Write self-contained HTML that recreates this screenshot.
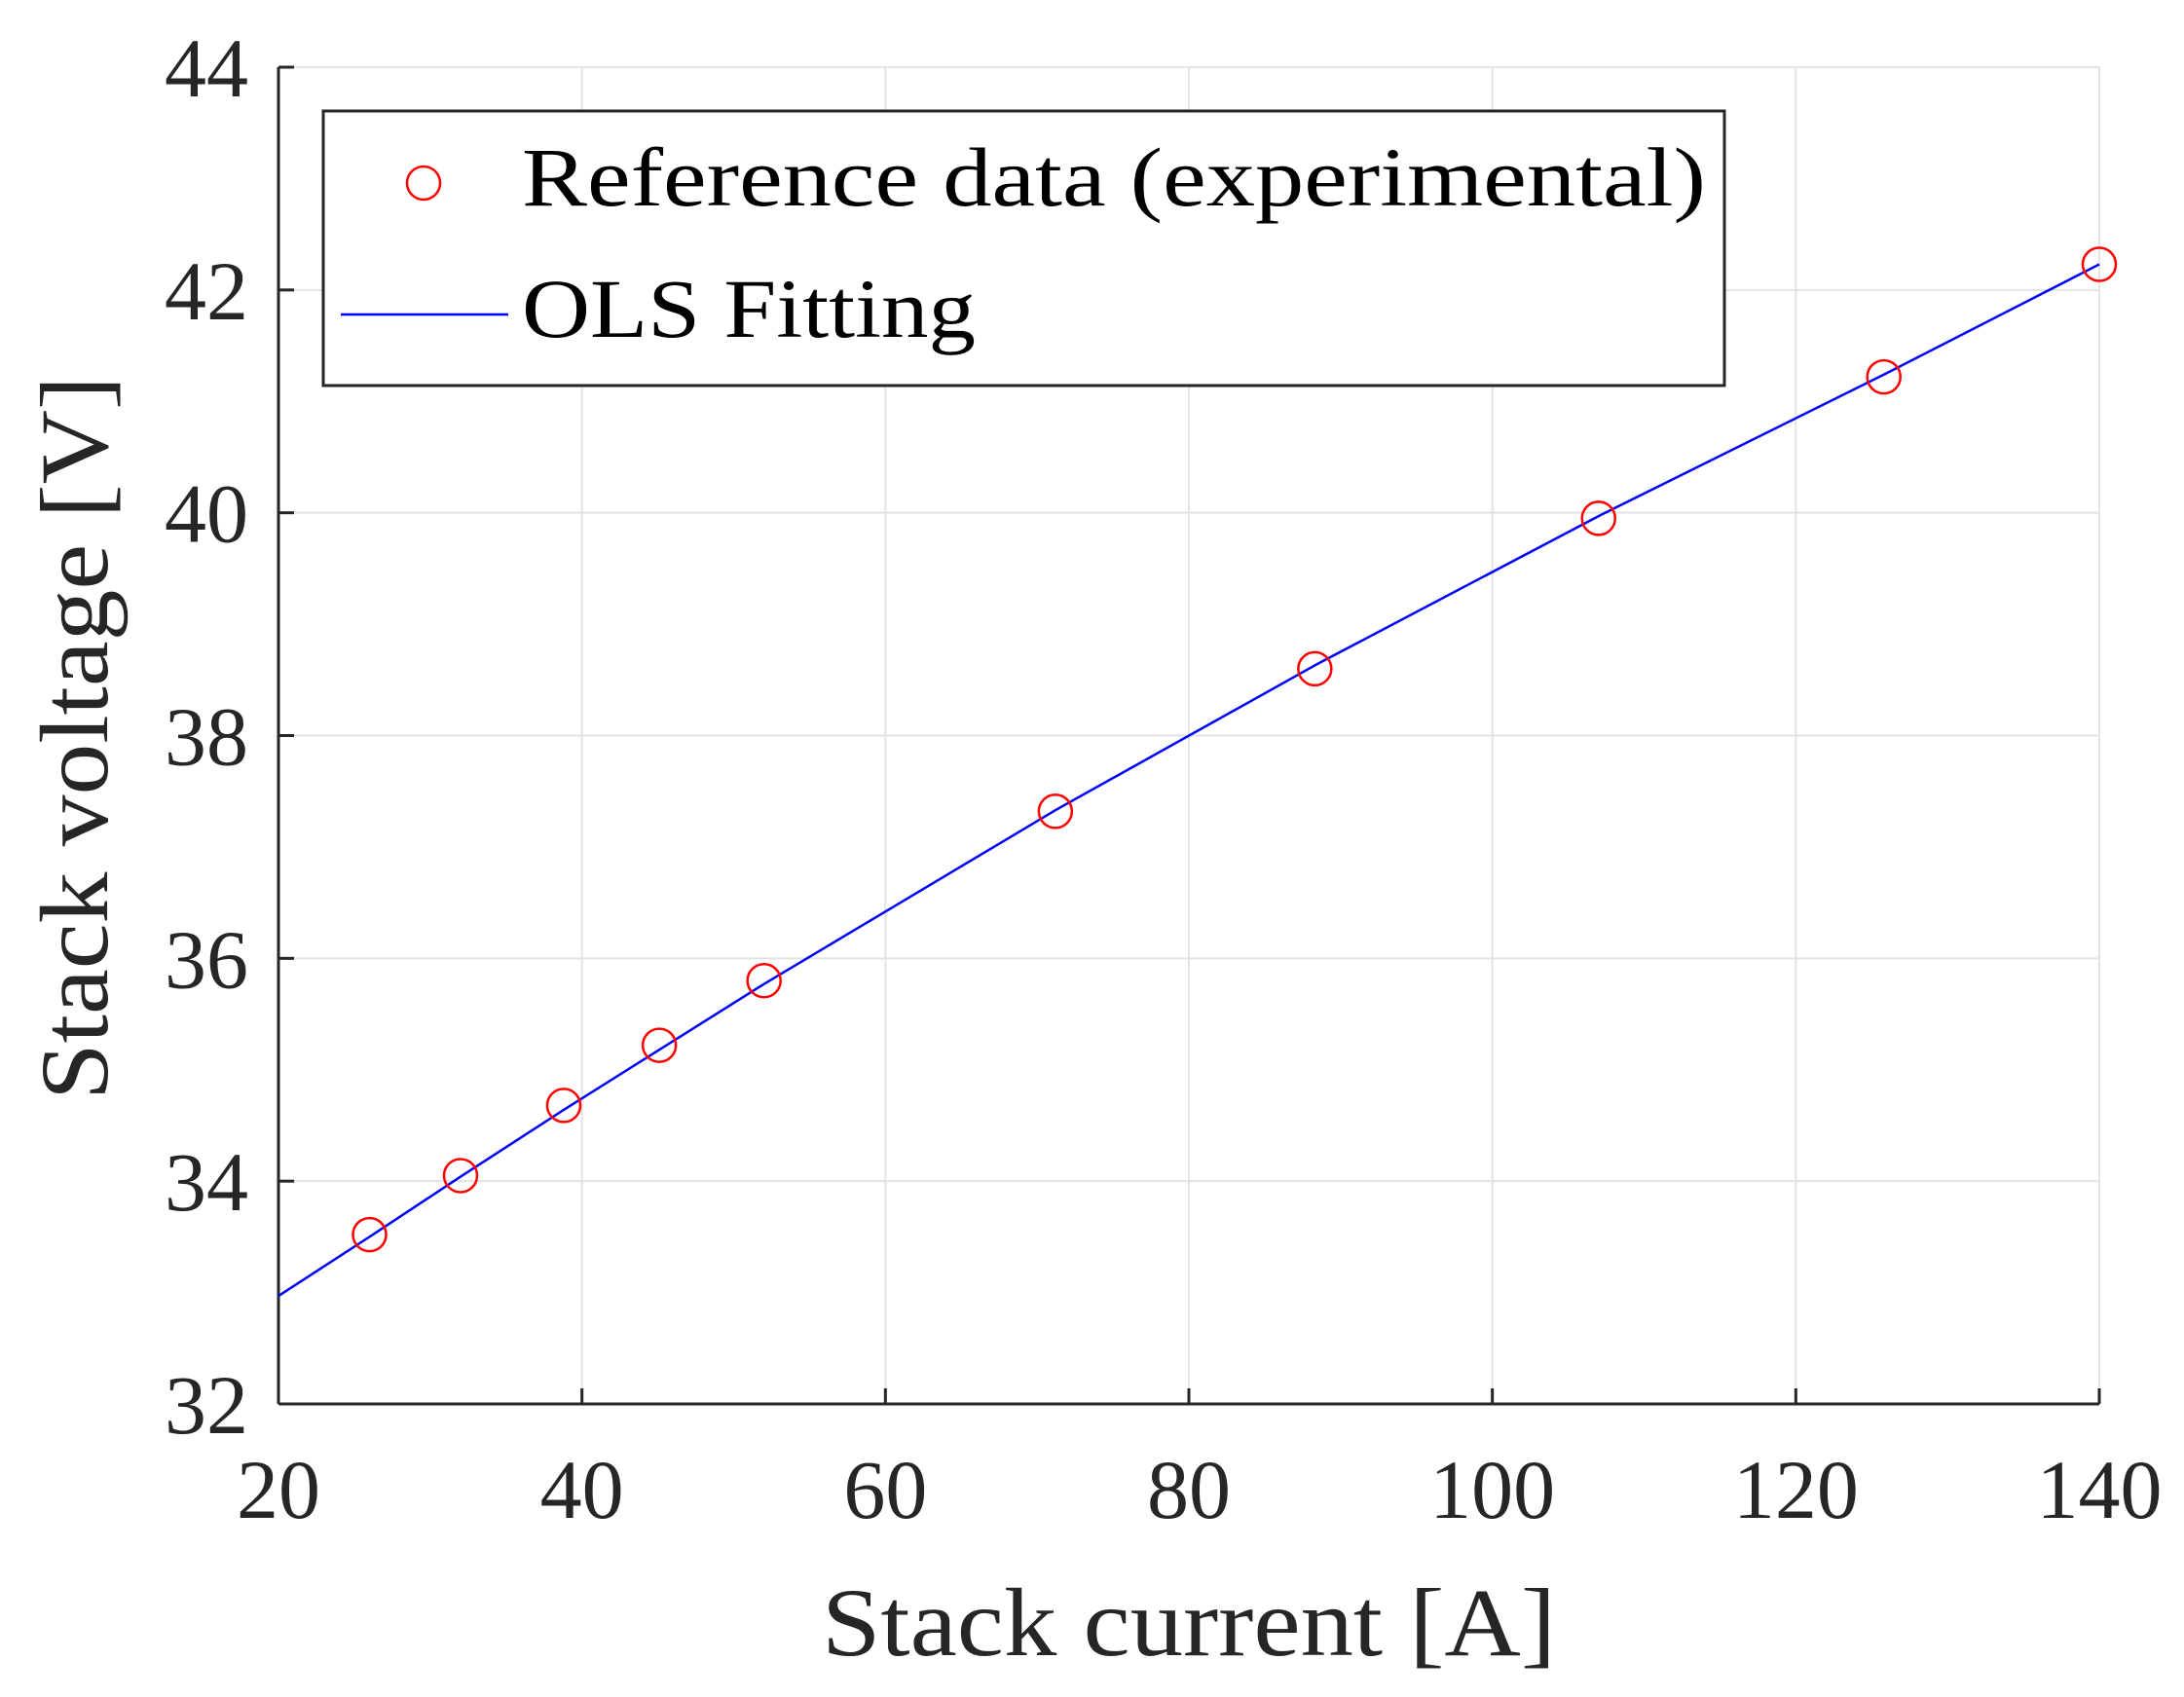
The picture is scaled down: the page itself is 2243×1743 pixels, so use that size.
<!DOCTYPE html>
<html><head><meta charset="utf-8"><style>
html,body{margin:0;padding:0;background:#fff;}
svg{display:block;font-family:"Liberation Serif",serif;}
</style></head><body>
<svg id="chart" width="2243" height="1743" viewBox="0 0 2243 1743" xmlns="http://www.w3.org/2000/svg">
<rect x="0" y="0" width="2243" height="1743" fill="#fff"/>
<g id="grid"></g>
<g id="axes"></g>
<g id="series"></g>
<text x="1221" y="1700" font-size="100" text-anchor="middle" textLength="754" lengthAdjust="spacingAndGlyphs" fill="#262626">Stack current [A]</text>
<text transform="translate(110,758) rotate(-90)" font-size="100" text-anchor="middle" textLength="744" lengthAdjust="spacingAndGlyphs" fill="#262626">Stack voltage [V]</text>
<g>
<rect x="332" y="114" width="1439" height="282" fill="#fff" stroke="#262626" stroke-width="3"/>
<circle cx="435" cy="188" r="17" fill="none" stroke="#ff0000" stroke-width="2.5"/>
<text x="536" y="211" font-size="86" textLength="1216" lengthAdjust="spacingAndGlyphs" fill="#000">Reference data (experimental)</text>
<line x1="350" y1="323" x2="522" y2="323" stroke="#0000ff" stroke-width="2.5"/>
<text x="536" y="346" font-size="86" textLength="466" lengthAdjust="spacingAndGlyphs" fill="#000">OLS Fitting</text>
</g>
</svg>
<script>
const xTicks = [20, 40, 60, 80, 100, 120, 140];
const yTicks = [32, 34, 36, 38, 40, 42, 44];
const refCurrent = [26, 32, 38.8, 45.1, 52, 71.2, 88.3, 107, 125.8, 140];
const refVoltage = [33.52, 34.05, 34.68, 35.22, 35.80, 37.32, 38.60, 39.95, 41.22, 42.23];
const fitCurrent = [20, 26, 32, 38.8, 45.1, 52, 71.2, 88.3, 107, 125.8, 140];
const fitVoltage = [32.97, 33.50, 34.04, 34.64, 35.18, 35.77, 37.33, 38.63, 39.97, 41.24, 42.23];

const NS = "http://www.w3.org/2000/svg";
const L = 286, R = 2156, T = 69, B = 1442;
const xMin = 20, xMax = 140, yMin = 32, yMax = 44;
function sx(v){ return L + (v - xMin) / (xMax - xMin) * (R - L); }
function sy(v){ return B - (v - yMin) / (yMax - yMin) * (B - T); }
function mk(tag, attrs, parent){
  const e = document.createElementNS(NS, tag);
  for (const k in attrs) e.setAttribute(k, attrs[k]);
  parent.appendChild(e);
  return e;
}
const grid = document.getElementById('grid');
const axes = document.getElementById('axes');
const series = document.getElementById('series');

xTicks.forEach(t => {
  const g = mk('line', {x1: sx(t), y1: T, x2: sx(t), y2: B, stroke: '#e3e3e3', 'stroke-width': 2}, grid);
  
  
  const tk = mk('line', {x1: sx(t), y1: B, x2: sx(t), y2: B - 16, stroke: '#262626', 'stroke-width': 3}, axes);
  
  
  const lb = mk('text', {x: sx(t), y: 1559, 'font-size': 86, 'text-anchor': 'middle', fill: '#262626'}, axes);
  lb.textContent = t;
  
  
});
yTicks.forEach(t => {
  const g = mk('line', {x1: L, y1: sy(t), x2: R, y2: sy(t), stroke: '#e3e3e3', 'stroke-width': 2}, grid);
  
  
  const tk = mk('line', {x1: L, y1: sy(t), x2: L + 16, y2: sy(t), stroke: '#262626', 'stroke-width': 3}, axes);
  
  
  const lb = mk('text', {x: 255, y: sy(t) + 30, 'font-size': 86, 'text-anchor': 'end', fill: '#262626'}, axes);
  lb.textContent = t;
  
  
});
const xa = mk('line', {x1: L, y1: B, x2: R, y2: B, stroke: '#262626', 'stroke-width': 3}, axes);


const ya = mk('line', {x1: L, y1: T, x2: L, y2: B, stroke: '#262626', 'stroke-width': 3}, axes);



let d = '';
fitCurrent.forEach((c, i) => { d += (i ? 'L' : 'M') + sx(c) + ',' + sy(fitVoltage[i]); });
const fl = mk('path', {d: d, fill: 'none', stroke: '#0000ff', 'stroke-width': 2.5, 'stroke-linejoin': 'round'}, series);



refCurrent.forEach((c, i) => {
  const p = mk('circle', {cx: sx(c), cy: sy(refVoltage[i]), r: 17, fill: 'none', stroke: '#ff0000', 'stroke-width': 2.5}, series);
  
  
});
</script>
</body></html>
